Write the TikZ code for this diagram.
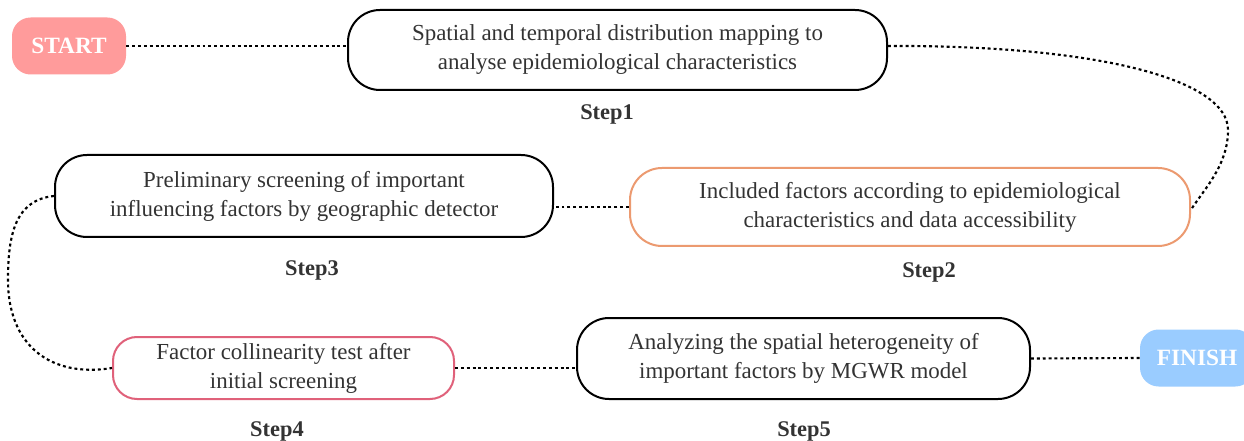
\documentclass[tikz,border=0pt]{standalone}
\usepackage{fontspec}
\setmainfont{Liberation Serif}
\begin{document}
\begin{tikzpicture}[x=0.75pt,y=-0.75pt,
  stepbox/.style={draw=#1,line width=1.5pt,rounded corners=24pt,fill=white,
    align=center,inner sep=0pt,text=textgray,
    font=\fontsize{17.2}{21.75}\selectfont},
  endbox/.style={fill=#1,rounded corners=14pt,inner sep=0pt,text=white,
    minimum width=85.5pt,minimum height=42.75pt,
    font=\fontsize{17.5}{20}\selectfont\bfseries},
  steplabel/.style={font=\fontsize{16.8}{18}\selectfont\bfseries,text=textgray},
  link/.style={line width=1.6pt,dash pattern=on 2.2pt off 2.2pt}]
\definecolor{textgray}{HTML}{333333}
\definecolor{startpink}{HTML}{FF9B9B}
\definecolor{finishblue}{HTML}{9ACCFF}
\definecolor{orangeline}{HTML}{EC9A70}
\definecolor{roseline}{HTML}{E0617A}
\clip (0,0) rectangle (1244,441);
\fill[white] (0,0) rectangle (1244,441);

% start and finish
\node[endbox=startpink] (start) at (69,46) {START};
\node[endbox=finishblue] (finish) at (1197,358) {FINISH};

% process boxes
\node[stepbox=black,minimum width=404.25pt,minimum height=60pt] (s1) at (617.5,50)
  {Spatial and temporal distribution mapping to\\analyse epidemiological characteristics};
\node[stepbox=orangeline,minimum width=420pt,minimum height=58.5pt] (s2) at (910,207)
  {Included factors according to epidemiological\\characteristics and data accessibility};
\node[stepbox=black,minimum width=373.5pt,minimum height=61.5pt] (s3) at (304,196)
  {Preliminary screening of important\\influencing factors by geographic detector};
\node[stepbox=roseline,minimum width=255.75pt,minimum height=46.5pt,rounded corners=18pt] (s4) at (283.5,368)
  {Factor collinearity test after\\initial screening};
\node[stepbox=black,minimum width=339.75pt,minimum height=60.75pt] (s5) at (803.5,358.5)
  {Analyzing the spatial heterogeneity of\\important factors by MGWR model};

% step labels
\node[steplabel] (l1) at (607,114) {Step1};
\node[steplabel] (l2) at (929,272) {Step2};
\node[steplabel] (l3) at (312,270) {Step3};
\node[steplabel] (l4) at (277,431) {Step4};
\node[steplabel] (l5) at (804,431) {Step5};

% dotted connectors
\draw[link] (start.east) -- (s1.west |- start.east);
\draw[link] ([yshift=3pt]s1.east) .. controls (1100,45) and (1228,80) .. (1228,130)
  .. controls (1228,165) and (1205,188) .. ([yshift=-2pt]s2.east);
\draw[link] (s2.west) -- (s3.east |- s2.west);
\draw[link] (s3.west) .. controls (15,200) and (8,235) .. (8,280)
  .. controls (8,345) and (50,378) .. (s4.west);
\draw[link] (s4.east) -- (s5.west |- s4.east);
\draw[link] (s5.east) -- (finish.west);
\end{tikzpicture}
\end{document}
